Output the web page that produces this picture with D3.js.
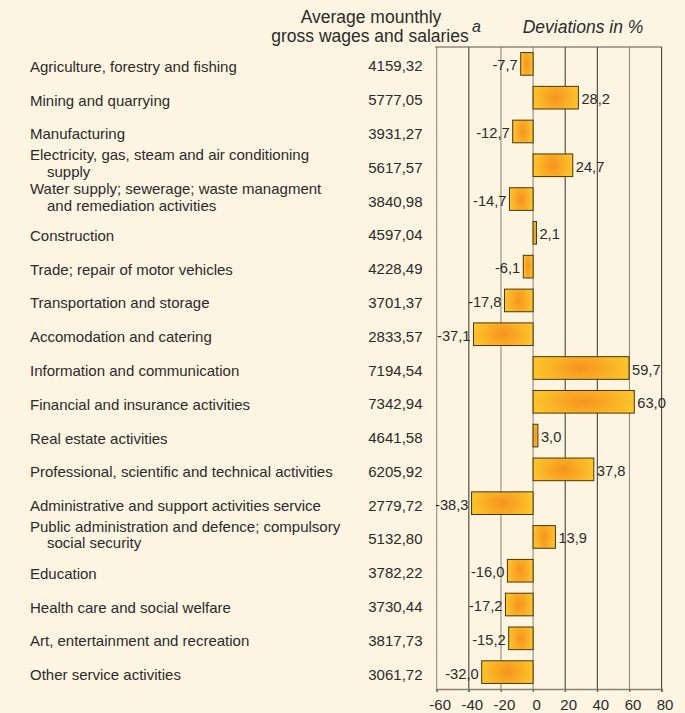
<!DOCTYPE html>
<html>
<head>
<meta charset="utf-8">
<script src="https://cdn.jsdelivr.net/npm/d3@7"></script>
<style>
  html, body { margin: 0; padding: 0; background: #fdf5e2; }
  svg { display: block; font-family: "Liberation Sans", Arial, sans-serif; }
</style>
</head>
<body>
<svg id="chart" width="685" height="713"></svg>
<script>
const categories = [
  "Agriculture, forestry and fishing",
  "Mining and quarrying",
  "Manufacturing",
  "Electricity, gas, steam and air conditioning\nsupply",
  "Water supply; sewerage; waste managment\nand remediation activities",
  "Construction",
  "Trade; repair of motor vehicles",
  "Transportation and storage",
  "Accomodation and catering",
  "Information and communication",
  "Financial and insurance activities",
  "Real estate activities",
  "Professional, scientific and technical activities",
  "Administrative and support activities service",
  "Public administration and defence; compulsory\nsocial security",
  "Education",
  "Health care and social welfare",
  "Art, entertainment and recreation",
  "Other service activities"
];
const wages = [
  "4159,32", "5777,05", "3931,27", "5617,57", "3840,98", "4597,04", "4228,49",
  "3701,37", "2833,57", "7194,54", "7342,94", "4641,58", "6205,92", "2779,72",
  "5132,80", "3782,22", "3730,44", "3817,73", "3061,72"
];
const deviations = [
  -7.7, 28.2, -12.7, 24.7, -14.7, 2.1, -6.1, -17.8, -37.1, 59.7, 63.0, 3.0,
  37.8, -38.3, 13.9, -16.0, -17.2, -15.2, -32.0
];
const xTicks = [-60, -40, -20, 0, 20, 40, 60, 80];
const headerWages = ["Average mounthly", "gross wages and salaries"];
const headerDev = "Deviations in %";

const svg = d3.select("#chart");
const textColor = "#2b2b2b";
const fontFam = "'Liberation Sans', Arial, sans-serif";

const x = d3.scaleLinear().domain([-60, 80]).range([436.7, 661.6]);
const y = d3.scaleBand().domain(d3.range(categories.length))
  .range([47, 689]).paddingInner(0.33).paddingOuter(0.165);

const fmt = v => d3.format(".1f")(v).replace(".", ",").replace("−", "-");

// gradient
const defs = svg.append("defs");
const grad = defs.append("radialGradient").attr("id", "barGrad")
  .attr("cx", 0.5).attr("cy", 0.5).attr("r", 0.5)
  .attr("gradientTransform", "translate(0.5,0.5) scale(1,1.8) translate(-0.5,-0.5)");
grad.append("stop").attr("offset", "0%").attr("stop-color", "#f6931f");
grad.append("stop").attr("offset", "100%").attr("stop-color", "#fcc42a");

// grid lines
svg.append("g").selectAll("line").data(xTicks).join("line")
  .attr("x1", d => x(d)).attr("x2", d => x(d))
  .attr("y1", 47).attr("y2", 692)
  .attr("stroke", (d, i) => (i % 2 === 1 && d !== 0) || d === 20 ? "#4a4234" : "#948b7a")
  .attr("stroke-width", 1.1);

// top frame line
svg.append("line").attr("x1", x(-60) - 1.5).attr("x2", x(80) + 0.5)
  .attr("y1", 47).attr("y2", 47).attr("stroke", "#5e5646").attr("stroke-width", 1.2);

// bottom axis
const axis = svg.append("g").attr("transform", "translate(0,689)")
  .call(d3.axisBottom(x).tickValues(xTicks).tickSize(3).tickFormat(d => String(d)));
axis.select(".domain").attr("stroke", "#8a8270").attr("stroke-width", 1.5);
axis.selectAll(".tick line").attr("stroke", "#6f6656");
axis.selectAll(".tick text").attr("font-size", 15).attr("fill", textColor)
  .attr("font-family", fontFam)
  .attr("dy", "0.97em").attr("dx", 3);

// bars
svg.append("g").selectAll("rect").data(deviations).join("rect")
  .attr("x", d => x(Math.min(0, d)))
  .attr("width", d => Math.abs(x(d) - x(0)))
  .attr("y", (d, i) => y(i))
  .attr("height", y.bandwidth())
  .attr("fill", "url(#barGrad)")
  .attr("stroke", "#4a3510").attr("stroke-width", 1);

// bar value labels
svg.append("g").selectAll("text").data(deviations).join("text")
  .attr("x", d => d >= 0 ? x(d) + 3 : x(d) - 3)
  .attr("y", (d, i) => y(i) + y.bandwidth() / 2 + 6.5)
  .attr("text-anchor", d => d >= 0 ? "start" : "end")
  .attr("font-size", 14.7).attr("fill", textColor)
  .text(d => fmt(d));

// wages column
svg.append("g").selectAll("text").data(wages).join("text")
  .attr("x", 422.5)
  .attr("y", (d, i) => y(i) + y.bandwidth() / 2 + 7.5)
  .attr("text-anchor", "end")
  .attr("font-size", 15).attr("fill", textColor)
  .text(d => d);

// category labels
const lab = svg.append("g").selectAll("text").data(categories).join("text")
  .attr("font-size", 15).attr("fill", textColor)
  .attr("y", (d, i) => {
    const c = y(i) + y.bandwidth() / 2;
    return d.includes("\n") ? c - 5 : c + 8;
  });
lab.each(function(d) {
  const parts = d.split("\n");
  const t = d3.select(this);
  parts.forEach((p, k) => {
    t.append("tspan").attr("x", k === 0 ? 30 : 47).attr("dy", k === 0 ? 0 : 16.5).text(p);
  });
});

// headers
svg.append("text").attr("x", 371).attr("y", 23).attr("text-anchor", "middle")
  .attr("font-size", 17.5).attr("fill", textColor).text(headerWages[0]);
svg.append("text").attr("x", 370).attr("y", 42).attr("text-anchor", "middle")
  .attr("font-size", 17.5).attr("fill", textColor).text(headerWages[1]);
svg.append("text").attr("x", 472).attr("y", 32)
  .attr("font-size", 16).attr("font-style", "italic").attr("fill", textColor).text("a");
svg.append("text").attr("x", 583).attr("y", 33).attr("text-anchor", "middle")
  .attr("font-size", 17.5).attr("font-style", "italic").attr("fill", textColor).text(headerDev);
</script>
</body>
</html>
